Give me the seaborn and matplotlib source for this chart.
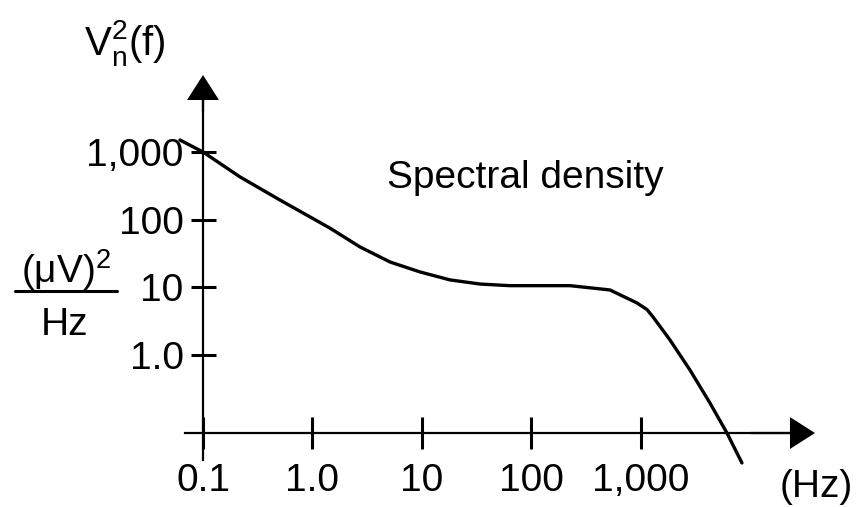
import numpy as np
import pandas as pd
import seaborn as sns
import matplotlib
matplotlib.use("Agg")
import matplotlib.pyplot as plt
from matplotlib.lines import Line2D
from matplotlib.ticker import NullLocator

# ---- data ----
freq_hz = [0.0616, 0.1, 0.218, 0.505, 1.445, 2.72, 5.11, 9.6, 18.0, 33.9,
           63.7, 225, 521, 919, 1135, 1288, 1841, 2800, 4265, 6100, 8360]
density = [1503, 1000, 428, 195, 75, 39.5, 23.7, 16.9, 12.9, 11.2,
           10.6, 10.6, 9.16, 5.89, 4.7, 3.66, 1.67, 0.603, 0.196, 0.0706, 0.0255]

x_ticks = [0.1, 1, 10, 100, 1000]
x_tick_labels = ["0.1", "1.0", "10", "100", "1,000"]
y_ticks = [1, 10, 100, 1000]
y_tick_labels = ["1.0", "10", "100", "1,000"]
curve_label = "Spectral density"
x_unit = "(Hz)"

# axis placement (data units)
y_axis_at_x = 0.1
x_axis_at_y = 0.0706

sns.set_style("white")
plt.rcParams["font.family"] = ["Liberation Sans", "DejaVu Sans"]
plt.rcParams["mathtext.fontset"] = "custom"
plt.rcParams["mathtext.rm"] = "Liberation Sans"
plt.rcParams["mathtext.it"] = "Liberation Sans"
plt.rcParams["text.color"] = "black"

FS = 28
W, H = 865, 507
fig = plt.figure(figsize=(W / 100, H / 100), dpi=100)
ax = fig.add_axes([0, 0, 1, 1])
ax.set_xscale("log")
ax.set_yscale("log")
ax.set_xlim(10 ** -2.854, 10 ** 5.046)
ax.set_ylim(10 ** -2.244, 10 ** 5.245)
ax.patch.set_alpha(0)

df = pd.DataFrame({"f": freq_hz, "v": density})
sns.lineplot(data=df, x="f", y="v", color="black", lw=2.4, ax=ax,
             sort=False, clip_on=False)
ax.set_xlabel("")
ax.set_ylabel("")

# axes as spines crossing at (0.1, x_axis_at_y)
for s in ("top", "right"):
    ax.spines[s].set_visible(False)
ax.spines["left"].set_position(("data", y_axis_at_x))
ax.spines["bottom"].set_position(("data", x_axis_at_y))
ax.spines["left"].set_bounds(0.028, 10 ** 3.9)
ax.spines["bottom"].set_bounds(0.0686, 10 ** 4.45)
for s in ("left", "bottom"):
    ax.spines[s].set_linewidth(1.6)
    ax.spines[s].set_color("black")

ax.set_xticks(x_ticks, x_tick_labels)
ax.set_yticks(y_ticks, y_tick_labels)
ax.xaxis.set_minor_locator(NullLocator())
ax.yaxis.set_minor_locator(NullLocator())
ax.tick_params(axis="x", which="major", bottom=True, direction="inout",
               length=23, width=2.2, pad=10, labelsize=FS, colors="black")
ax.tick_params(axis="y", which="major", left=True, direction="inout",
               length=18, width=2.2, pad=5, labelsize=FS, colors="black")

# arrow heads
arrow = dict(facecolor="black", edgecolor="black", width=1.6, lw=0,
             headwidth=23, headlength=18, shrink=0)
ax.annotate("", xy=(y_axis_at_x, 10 ** 4.137), xytext=(y_axis_at_x, 10 ** 3.6),
            arrowprops=arrow)
ax.annotate("", xy=(10 ** 4.589, x_axis_at_y), xytext=(10 ** 4.0, x_axis_at_y),
            arrowprops=arrow)

# texts
def px(x, y):
    return x / W, 1 - y / H

fig.text(*px(387, 188), curve_label, fontsize=FS, ha="left", va="baseline")
fig.text(*px(780, 497), x_unit, fontsize=FS, ha="left", va="baseline")
fig.text(*px(84, 55), r"V$_\mathregular{n}^\mathregular{2}$(f)", fontsize=FS + 1,
         ha="left", va="baseline")
fig.text(*px(66, 283), r"(μV)$^\mathregular{2}$", fontsize=FS, ha="center",
         va="baseline")
fig.add_artist(Line2D([15 / W, 117 / W], [1 - 291 / H] * 2, color="black",
                      lw=2.2, transform=fig.transFigure))
fig.text(*px(65, 335), "Hz", fontsize=FS, ha="center", va="baseline")

fig.savefig("out.png", dpi=100, facecolor="white")
